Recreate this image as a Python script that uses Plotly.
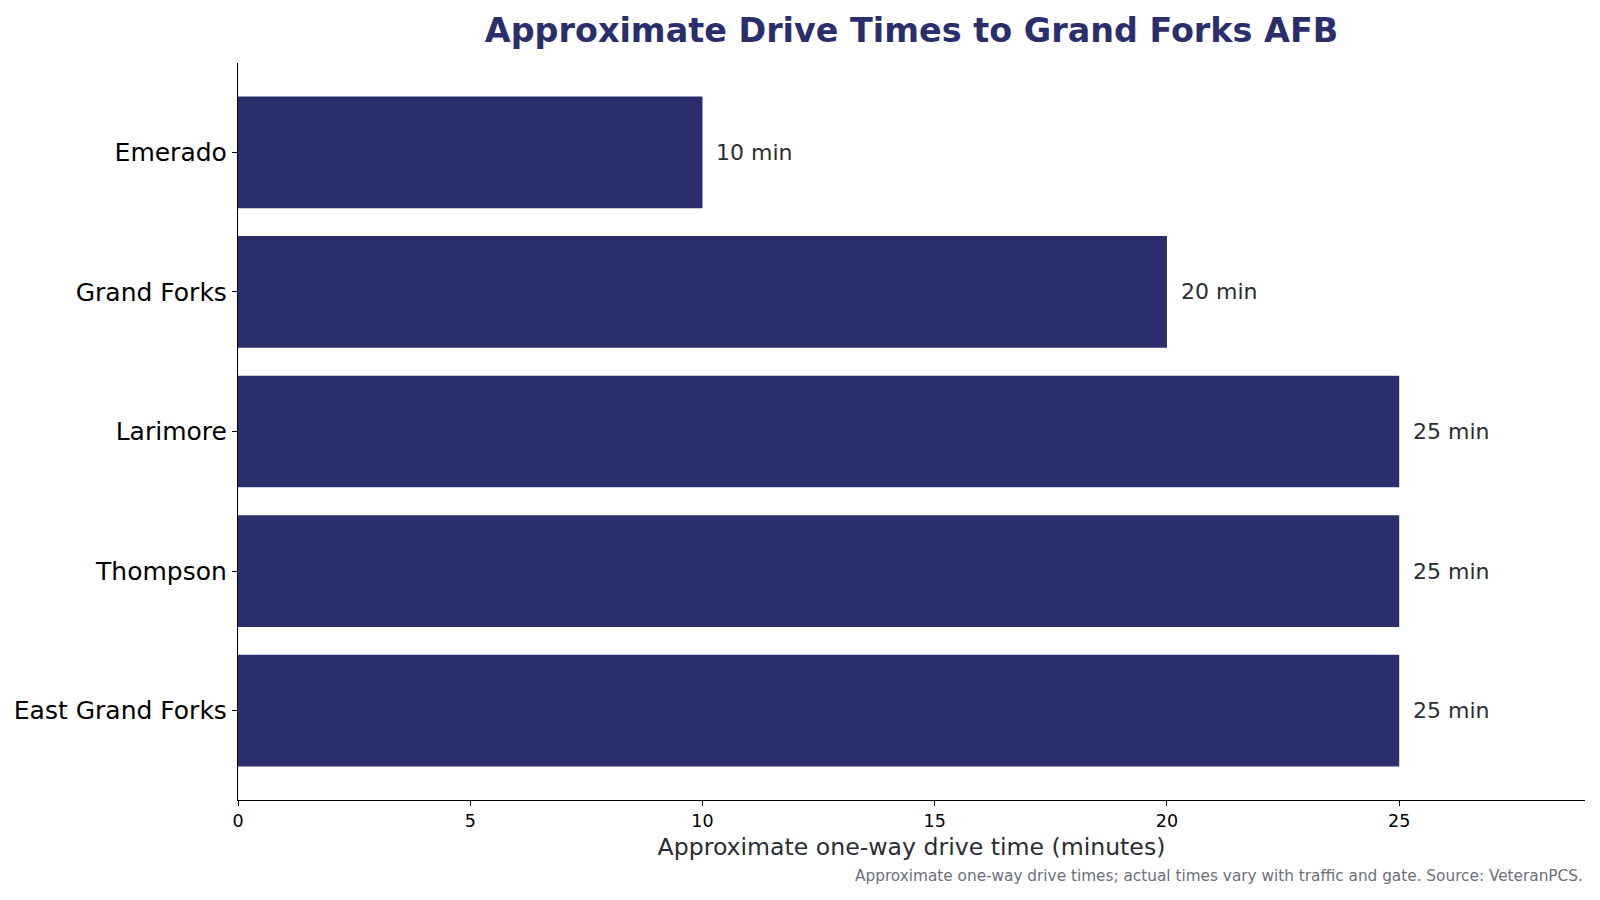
import plotly.graph_objects as go

towns = ["Emerado", "Grand Forks", "Larimore", "Thompson", "East Grand Forks"]
minutes = [10, 20, 25, 25, 25]
x_ticks = [0, 5, 10, 15, 20, 25]
value_labels = [f"{m} min" for m in minutes]

NAVY = "#2a2f6b"

fig = go.Figure()
fig.add_trace(go.Bar(
    y=towns, x=minutes, orientation="h",
    marker=dict(color=NAVY, line=dict(width=0)),
    width=0.8, hoverinfo="skip",
))

for t, m, lab in zip(towns, minutes, value_labels):
    fig.add_annotation(x=m, y=t, text=lab, xanchor="left", yanchor="middle",
                       xshift=12, showarrow=False,
                       font=dict(family="DejaVu Sans", size=22, color="#2a2d33"))

fig.add_annotation(text="Approximate one-way drive times; actual times vary with traffic and gate. Source: VeteranPCS.",
                   xref="paper", yref="paper", x=1.0, y=-0.103, xanchor="right", yanchor="middle",
                   showarrow=False, font=dict(family="DejaVu Sans", size=15.3, color="#6b7079"))

fig.update_layout(
    width=1600, height=900,
    margin=dict(l=238, r=15, t=63, b=100),
    paper_bgcolor="white", plot_bgcolor="white",
    showlegend=False,
    title=dict(text="<b>Approximate Drive Times to Grand Forks AFB</b>",
               x=0.5, xref="paper", y=1 - 30 / 900, yref="container",
               xanchor="center", yanchor="middle",
               font=dict(family="DejaVu Sans", size=33.4, color=NAVY)),
    xaxis=dict(range=[0, 29], tickvals=x_ticks, ticks="outside", ticklen=5, tickcolor="black",
               showline=True, linecolor="black", linewidth=1.2, showgrid=False, zeroline=False,
               tickfont=dict(family="DejaVu Sans", size=17.5, color="black"),
               title=dict(text="Approximate one-way drive time (minutes)", standoff=8,
                          font=dict(family="DejaVu Sans", size=23.6, color="#2a2d33"))),
    yaxis=dict(categoryorder="array", categoryarray=towns[::-1], range=[-0.64, 4.64],
               ticks="outside", ticklen=5, tickcolor="black",
               showline=True, linecolor="black", linewidth=1.2, showgrid=False, zeroline=False,
               tickfont=dict(family="DejaVu Sans", size=25, color="black")),
)

fig.write_html("out.html")
